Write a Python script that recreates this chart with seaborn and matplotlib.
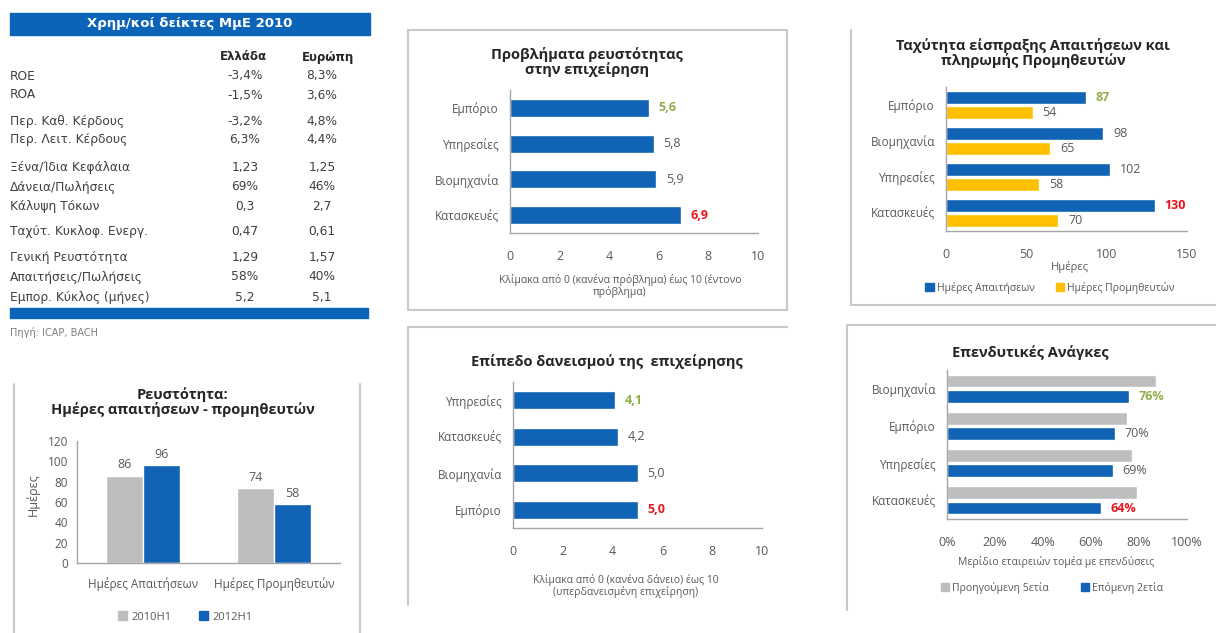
import numpy as np
import pandas as pd
import matplotlib
matplotlib.use('Agg')
import matplotlib.pyplot as plt
from matplotlib.patches import Patch, Rectangle
from matplotlib.lines import Line2D
from matplotlib.ticker import PercentFormatter
import seaborn as sns

# ---- data ----
table_title = 'Χρημ/κοί δείκτες ΜμΕ 2010'
table_cols = ['Ελλάδα', 'Ευρώπη']
table_rows = ['ROE', 'ROA', 'Περ. Καθ. Κέρδους', 'Περ. Λειτ. Κέρδους',
              'Ξένα/Ίδια Κεφάλαια', 'Δάνεια/Πωλήσεις', 'Κάλυψη Τόκων',
              'Ταχύτ. Κυκλοφ. Ενεργ.', 'Γενική Ρευστότητα',
              'Απαιτήσεις/Πωλήσεις', 'Εμπορ. Κύκλος (μήνες)']
greece_vals = ['-3,4%', '-1,5%', '-3,2%', '6,3%', '1,23', '69%', '0,3',
               '0,47', '1,29', '58%', '5,2']
europe_vals = ['8,3%', '3,6%', '4,8%', '4,4%', '1,25', '46%', '2,7',
               '0,61', '1,57', '40%', '5,1']
table_source = 'Πηγή: ICAP, BACH'

liq_cats = ['Ημέρες Απαιτήσεων', 'Ημέρες Προμηθευτών']
liq_periods = ['2010H1', '2012H1']
liq_2010 = [86, 74]
liq_2012 = [96, 58]

prob_cats = ['Εμπόριο', 'Υπηρεσίες', 'Βιομηχανία', 'Κατασκευές']
prob_vals = [5.6, 5.8, 5.9, 6.9]

loan_cats = ['Υπηρεσίες', 'Κατασκευές', 'Βιομηχανία', 'Εμπόριο']
loan_vals = [4.1, 4.2, 5.0, 5.0]

speed_cats = ['Εμπόριο', 'Βιομηχανία', 'Υπηρεσίες', 'Κατασκευές']
speed_series = ['Ημέρες Απαιτήσεων', 'Ημέρες Προμηθευτών']
speed_recv = [87, 98, 102, 130]
speed_supp = [54, 65, 58, 70]

inv_cats = ['Βιομηχανία', 'Εμπόριο', 'Υπηρεσίες', 'Κατασκευές']
inv_series = ['Προηγούμενη 5ετία', 'Επόμενη 2ετία']
inv_prev = [87, 75, 77, 79]
inv_next = [76, 70, 69, 64]

# ---- style ----
BLUE = '#1063B5'
GRAY = '#BEBEBE'
YELLOW = '#FFC000'
GREEN = '#8FAE4A'
RED = '#E8141E'
TXT = '#404040'
TICK = '#595959'
AXIS = '#A6A6A6'
BORDER = '#C8C8C8'

sns.set_theme(style='white')
plt.rcParams['font.family'] = ['Open Sans', 'DejaVu Sans']

W, H = 1216, 633
fig = plt.figure(figsize=(W / 100, H / 100), dpi=100, facecolor='white')


def fx(x):
    return x / W


def fy(y):
    return 1 - y / H


def axes_px(left, top, right, bottom):
    return fig.add_axes([left / W, 1 - bottom / H, (right - left) / W, (bottom - top) / H])


def border(xs, ys):
    fig.add_artist(Line2D([fx(x) for x in xs], [fy(y) for y in ys], color=BORDER, lw=1.5))


def style_axes(ax, horizontal=True, n=4):
    for s in ['top', 'right']:
        ax.spines[s].set_visible(False)
    for s in ['left', 'bottom']:
        ax.spines[s].set_color(AXIS)
        ax.spines[s].set_linewidth(1)
    ax.set_xlabel('')
    ax.set_ylabel('')
    ax.tick_params(colors=AXIS, labelcolor=TICK, length=3, width=1, labelsize=8.5)
    if horizontal:
        ax.tick_params(axis='y', which='major', length=0, pad=8)
        ax.set_yticks(np.arange(-0.5, n), minor=True)
        ax.tick_params(axis='y', which='minor', length=4, color=AXIS, width=1)
        ax.tick_params(axis='x', pad=9, labelsize=9)


def color_labels(texts, colors):
    for t, c in zip(texts, colors):
        t.set_color(c)
        if c in (GREEN, RED):
            t.set_fontweight('bold')


def fmt1(v):
    return f'{v:.1f}'.replace('.', ',')


# ---- table ----
fig.add_artist(Rectangle((fx(10), fy(35)), fx(370) - fx(10), fy(13) - fy(35),
                         color='#0C64B8', transform=fig.transFigure))
fig.text(fx(190), fy(24), table_title, color='white', fontweight='bold', fontsize=9.5,
         ha='center', va='center', family=['DejaVu Sans'])
fig.text(fx(243), fy(57), table_cols[0], color='#262626', fontweight='bold', fontsize=8.5,
         ha='center', va='center', family=['DejaVu Sans'])
fig.text(fx(328), fy(57), table_cols[1], color='#262626', fontweight='bold', fontsize=8.5,
         ha='center', va='center', family=['DejaVu Sans'])
row_y = [76, 95, 121, 140, 167, 187, 207, 232, 258, 277, 297]
for y, name, g, e in zip(row_y, table_rows, greece_vals, europe_vals):
    fig.text(fx(10), fy(y), name, color=TXT, fontsize=8.8, ha='left', va='center',
             family=['DejaVu Sans'])
    fig.text(fx(245), fy(y), g, color=TXT, fontsize=8.8, ha='center', va='center',
             family=['DejaVu Sans'])
    fig.text(fx(322), fy(y), e, color=TXT, fontsize=8.8, ha='center', va='center',
             family=['DejaVu Sans'])
fig.add_artist(Rectangle((fx(10), fy(318)), fx(368) - fx(10), fy(308) - fy(318),
                         color='#0C64B8', transform=fig.transFigure))
fig.text(fx(10), fy(333), table_source, color='#7F7F7F', fontsize=7, ha='left', va='center',
         family=['DejaVu Sans'])

# ---- panel borders ----
border([408, 408, 787, 787, 408], [30, 310, 310, 30, 30])
border([408, 408, 787], [605, 327, 327])
border([851, 851, 1216], [30, 305, 305])
border([847, 847, 1216], [610, 325, 325])
border([14, 14], [384, 633])
border([360, 360], [384, 633])

# ---- bottom-left: liquidity days ----
liq_df = pd.DataFrame({
    'cat': liq_cats * 2,
    'period': [liq_periods[0]] * 2 + [liq_periods[1]] * 2,
    'val': liq_2010 + liq_2012,
})
ax = axes_px(77, 441, 340, 563)
sns.barplot(data=liq_df, x='cat', y='val', hue='period', palette=[GRAY, BLUE],
            width=0.56, saturation=1, errorbar=None, legend=False, ax=ax)
style_axes(ax, horizontal=False)
ax.set_ylim(0, 120)
ax.set_yticks(range(0, 121, 20))
ax.set_xticks([-0.5, 0.5, 1.5], minor=True)
ax.tick_params(axis='x', which='major', length=0, pad=10)
ax.tick_params(axis='x', which='minor', length=4, color=AXIS)
for cont in ax.containers:
    ax.bar_label(cont, labels=[f'{v:.0f}' for v in cont.datavalues], padding=3,
                 fontsize=9, color=TICK)
fig.text(fx(183), fy(402), 'Ρευστότητα:\nΗμέρες απαιτήσεων - προμηθευτών', ha='center',
         va='center', fontsize=10.5, fontweight='bold', color='#262626', linespacing=1.05)
fig.text(fx(33), fy(495), 'Ημέρες', rotation=90, ha='center', va='center', fontsize=9,
         color=TICK)
fig.legend(handles=[Patch(color=GRAY, label=liq_periods[0]),
                    Patch(color=BLUE, label=liq_periods[1])],
           loc='center', bbox_to_anchor=(fx(185), fy(617)), ncol=2, frameon=False,
           fontsize=8, handlelength=0.8, handleheight=0.8, columnspacing=2.5,
           handletextpad=0.4, labelcolor=TICK)

# ---- top-middle: liquidity problems ----
ax = axes_px(510, 90, 758, 233)
sns.barplot(x=prob_vals, y=prob_cats, orient='h', color=BLUE, width=0.5, saturation=1,
            errorbar=None, ax=ax)
style_axes(ax)
ax.set_xlim(0, 10)
ax.set_xticks(range(0, 11, 2))
texts = ax.bar_label(ax.containers[0], labels=[fmt1(v) for v in prob_vals], padding=7,
                     fontsize=9)
color_labels(texts, [GREEN, TICK, TICK, RED])
fig.text(fx(587), fy(62), 'Προβλήματα ρευστότητας\nστην επιχείρηση', ha='center',
         va='center', fontsize=10.5, fontweight='bold', color='#262626', linespacing=1.05)
fig.text(fx(620), fy(286), 'Κλίμακα από 0 (κανένα πρόβλημα) έως 10 (έντονο\nπρόβλημα)',
         ha='center', va='center', fontsize=7.5, color=TICK, linespacing=1.1)

# ---- bottom-middle: borrowing level ----
ax = axes_px(513, 382, 762, 528)
sns.barplot(x=loan_vals, y=loan_cats, orient='h', color=BLUE, width=0.5, saturation=1,
            errorbar=None, ax=ax)
style_axes(ax)
ax.set_xlim(0, 10)
ax.set_xticks(range(0, 11, 2))
texts = ax.bar_label(ax.containers[0], labels=[fmt1(v) for v in loan_vals], padding=7,
                     fontsize=9)
color_labels(texts, [GREEN, TICK, TICK, RED])
fig.text(fx(607), fy(362), 'Επίπεδο δανεισμού της  επιχείρησης', ha='center',
         va='center', fontsize=10.5, fontweight='bold', color='#262626')
fig.text(fx(626), fy(586), 'Κλίμακα από 0 (κανένα δάνειο) έως 10\n(υπερδανεισμένη επιχείρηση)',
         ha='center', va='center', fontsize=7.5, color=TICK, linespacing=1.1)

# ---- top-right: collection / payment speed ----
speed_df = pd.DataFrame({
    'cat': speed_cats * 2,
    'series': [speed_series[0]] * 4 + [speed_series[1]] * 4,
    'val': speed_recv + speed_supp,
})
ax = axes_px(946, 87, 1187, 231)
sns.barplot(data=speed_df, y='cat', x='val', hue='series', orient='h',
            palette=[BLUE, YELLOW], width=0.82, gap=0.12, saturation=1, errorbar=None,
            legend=False, ax=ax)
style_axes(ax)
ax.set_xlim(0, 150)
ax.set_xticks(range(0, 151, 50))
texts = ax.bar_label(ax.containers[0], labels=[str(v) for v in speed_recv], padding=7,
                     fontsize=9)
color_labels(texts, [GREEN, TICK, TICK, RED])
texts = ax.bar_label(ax.containers[1], labels=[str(v) for v in speed_supp], padding=7,
                     fontsize=9)
color_labels(texts, [TICK] * 4)
fig.text(fx(1033), fy(53), 'Ταχύτητα είσπραξης Απαιτήσεων και\nπληρωμής Προμηθευτών',
         ha='center', va='center', fontsize=10.5, fontweight='bold', color='#262626',
         linespacing=1.05)
fig.text(fx(1070), fy(267), 'Ημέρες', ha='center', va='center', fontsize=8, color=TICK)
fig.legend(handles=[Patch(color=BLUE, label=speed_series[0]),
                    Patch(color=YELLOW, label=speed_series[1])],
           loc='center', bbox_to_anchor=(fx(1050), fy(288)), ncol=2, frameon=False,
           fontsize=7.5, handlelength=0.8, handleheight=0.8, columnspacing=2,
           handletextpad=0.3, labelcolor=TICK)

# ---- bottom-right: investment needs ----
inv_df = pd.DataFrame({
    'cat': inv_cats * 2,
    'series': [inv_series[0]] * 4 + [inv_series[1]] * 4,
    'val': inv_prev + inv_next,
})
ax = axes_px(947, 370, 1187, 519)
sns.barplot(data=inv_df, y='cat', x='val', hue='series', orient='h',
            palette=[GRAY, BLUE], width=0.82, gap=0.18, saturation=1, errorbar=None,
            legend=False, ax=ax)
style_axes(ax)
ax.set_xlim(0, 100)
ax.set_xticks(range(0, 101, 20))
ax.xaxis.set_major_formatter(PercentFormatter(decimals=0))
texts = ax.bar_label(ax.containers[1], labels=[f'{v}%' for v in inv_next], padding=7,
                     fontsize=9)
color_labels(texts, [GREEN, TICK, TICK, RED])
fig.text(fx(1030), fy(353), 'Επενδυτικές Ανάγκες', ha='center', va='center',
         fontsize=10.5, fontweight='bold', color='#262626')
fig.text(fx(1056), fy(562), 'Μερίδιο εταιρειών τομέα με επενδύσεις', ha='center',
         va='center', fontsize=7.5, color=TICK)
fig.legend(handles=[Patch(color=GRAY, label=inv_series[0]),
                    Patch(color=BLUE, label=inv_series[1])],
           loc='center', bbox_to_anchor=(fx(1052), fy(588)), ncol=2, frameon=False,
           fontsize=7.5, handlelength=0.8, handleheight=0.8, columnspacing=3,
           handletextpad=0.3, labelcolor=TICK)

fig.savefig('out.png', dpi=100, facecolor='white')
